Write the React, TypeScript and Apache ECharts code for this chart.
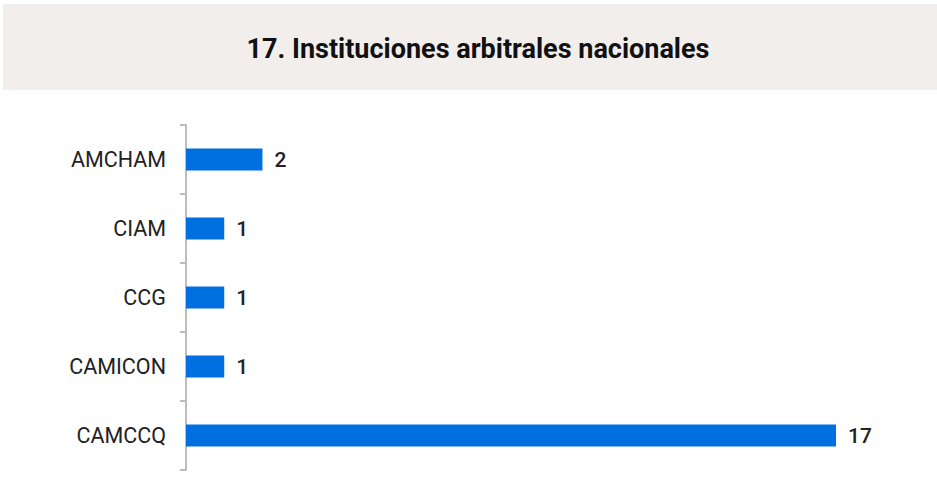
import React, { useEffect, useRef } from "react";
import * as echarts from "echarts";

const title = "17. Instituciones arbitrales nacionales";
const categories = ["CAMCCQ", "CAMICON", "CCG", "CIAM", "AMCHAM"];
const values = [17, 1, 1, 1, 2];

export default function App() {
  const ref = useRef<HTMLDivElement>(null);
  useEffect(() => {
    const chart = echarts.init(ref.current!, null, { renderer: "svg" });
    chart.setOption({
      animation: false,
      backgroundColor: "#ffffff",
      graphic: [
        {
          type: "rect",
          left: 3,
          top: 4,
          shape: { width: 934, height: 86 },
          style: { fill: "#f1eeec" },
          z: -1,
        },
      ],
      title: {
        text: title,
        left: 473,
        textAlign: "center",
        top: 30,
        textStyle: {
          fontFamily: "Roboto",
          fontWeight: "bold",
          fontSize: 27,
          color: "#111111",
        },
      },
      grid: { left: 186, top: 125, bottom: 30, right: 101, containLabel: false },
      xAxis: {
        type: "value",
        min: 0,
        max: 17,
        show: false,
      },
      yAxis: {
        type: "category",
        data: categories,
        axisLine: { show: true, lineStyle: { color: "#bdbdbd", width: 2 } },
        axisTick: { show: true, length: 6, lineStyle: { color: "#bdbdbd", width: 2 } },
        axisLabel: {
          margin: 20,
          fontFamily: "Roboto",
          fontSize: 21.5,
          color: "#222222",
        },
        splitLine: { show: false },
      },
      series: [
        {
          type: "bar",
          data: values,
          barWidth: 22,
          itemStyle: { color: "#006fe0" },
          label: {
            show: true,
            position: "right",
            distance: 12,
            fontFamily: "Roboto",
            fontSize: 21,
            fontWeight: 500,
            color: "#222222",
          },
        },
      ],
    });
    return () => chart.dispose();
  }, []);
  return (
    <div
      ref={ref}
      style={{ position: "fixed", left: 0, top: 0, width: 937, height: 500 }}
    />
  );
}
